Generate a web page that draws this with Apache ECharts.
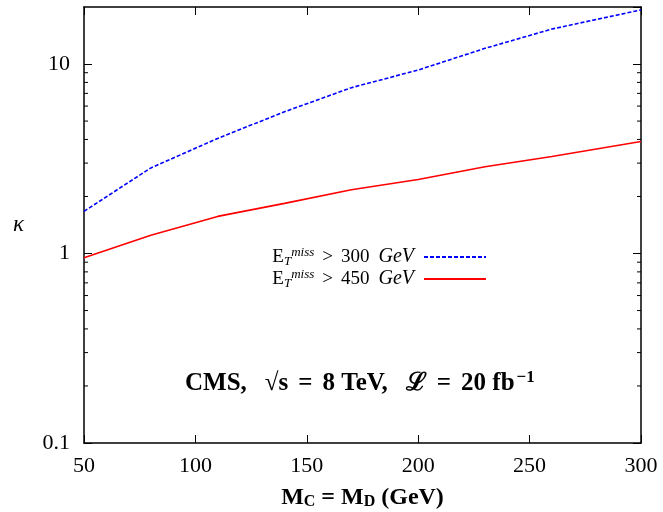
<!DOCTYPE html>
<html>
<head>
<meta charset="utf-8" />
<script src="https://cdn.jsdelivr.net/npm/echarts@6/dist/echarts.min.js"></script>
<style>
  html, body { margin: 0; padding: 0; background: #fff; }
  #view { width: 663px; height: 512px; }
</style>
</head>
<body>
<div id="view"></div>
<script>
    // masses M_C = M_D (GeV)
    var masses = [50, 80, 110, 140, 170, 200, 230, 260, 300];
    // kappa for the two missing-ET cuts
    var kappa300 = [1.67, 2.83, 4.05, 5.6, 7.5, 9.3, 12.1, 15.3, 19.3];
    var kappa450 = [0.95, 1.25, 1.57, 1.84, 2.17, 2.46, 2.87, 3.25, 3.9];
    // log axis minor ticks (2..9 per decade)
    var minorTicks = [0.2, 0.3, 0.4, 0.5, 0.6, 0.7, 0.8, 0.9,
        2, 3, 4, 5, 6, 7, 8, 9];
    var seriesNames = ["300", "450"];

    var FONT = "Liberation Serif";

    function pairs(xs, ys){
        return xs.map(function(x, i){ return [x, ys[i]]; });
    }

    var chart = echarts.init(document.getElementById("view"));

    var axisLine = {show: true, onZero: false, lineStyle: {color: "#000", width: 1.5}};
    var tick = {inside: true, length: 8, lineStyle: {color: "#000", width: 1}};

    var option = {
        backgroundColor: "#fff",
        animation: false,
        grid: {left: 84, right: 22, top: 7, bottom: 69, outerBoundsMode: "none"},
        legend: {
            orient: "vertical",
            align: "right",
            right: 171,
            top: 241,
            itemWidth: 62,
            itemHeight: 10,
            itemGap: 0,
            data: seriesNames,
            itemStyle: {color: "transparent", borderColor: "transparent", borderWidth: 0},
            formatter: function(n){
                return "{e|E}{sub|T}{sup|miss}{gt|>}{e|" + n + "}{it|GeV}";
            },
            textStyle: {
                fontFamily: FONT, fontSize: 19, color: "#000",
                rich: {
                    e: {fontFamily: FONT, fontSize: 19},
                    gt: {fontFamily: FONT, fontSize: 19, padding: [0, 8, 0, 8]},
                    sub: {fontFamily: FONT, fontSize: 13, fontStyle: "italic", padding: [9, 0, 0, 0]},
                    sup: {fontFamily: FONT, fontSize: 13, fontStyle: "italic", padding: [0, 0, 9, 0]},
                    it: {fontFamily: FONT, fontSize: 20, fontStyle: "italic", padding: [0, 5, 0, 9]}
                }
            }
        },
        xAxis: [{
            type: "value", min: 50, max: 300, interval: 50,
            axisLine: axisLine,
            axisTick: tick,
            axisLabel: {fontFamily: FONT, fontSize: 22, color: "#000", margin: 12},
            splitLine: {show: false},
            name: "{b|M}{s|C}{b| = M}{s|D}{b| (GeV)}",
            nameLocation: "middle",
            nameGap: 42,
            nameTextStyle: {
                rich: {
                    b: {fontFamily: FONT, fontSize: 24, fontWeight: "bold", color: "#000"},
                    s: {fontFamily: FONT, fontSize: 16, fontWeight: "bold", color: "#000", padding: [9, 0, 0, 0]}
                }
            }
        }, {
            type: "value", min: 50, max: 300, interval: 50, position: "top",
            axisLine: axisLine,
            axisTick: tick,
            axisLabel: {show: false},
            splitLine: {show: false}
        }],
        yAxis: [{
            type: "log", logBase: 10, min: 0.1, max: 20,
            axisLine: axisLine,
            axisTick: tick,
            axisLabel: {fontFamily: FONT, fontSize: 22, color: "#000", margin: 14, showMaxLabel: false,
                formatter: function(v){ return [0.1, 1, 10].indexOf(+v.toPrecision(3)) >= 0 ? String(+v.toPrecision(3)) : ""; }},
            splitLine: {show: false},
            name: "κ",
            nameLocation: "middle",
            nameRotate: 0,
            nameGap: 60,
            nameTextStyle: {fontFamily: FONT, fontSize: 23, fontStyle: "italic", color: "#000", padding: [0, 0, 8, 0]}
        }, {
            type: "log", logBase: 10, min: 0.1, max: 20, position: "right",
            axisLine: axisLine,
            axisTick: tick,
            axisLabel: {show: false},
            splitLine: {show: false}
        }],
        graphic: [{
            type: "text",
            left: 185,
            top: 369,
            style: {
                text: "{b|CMS,}{sp|}{b|√s}{eq|=}{b|8 TeV,}{sp|}{b|ℒ}{eq|=}{b|20 fb}{sup|−1}",
                rich: {
                    b: {fontFamily: FONT, fontSize: 25, fontWeight: "bold", fill: "#000"},
                    sp: {fontSize: 25, width: 18},
                    eq: {fontFamily: FONT, fontSize: 25, fontWeight: "bold", fill: "#000", padding: [0, 10, 0, 10]},
                    sup: {fontFamily: FONT, fontSize: 17, fontWeight: "bold", fill: "#000", padding: [0, 0, 12, 2]}
                }
            }
        }],
        series: [{
            name: seriesNames[0],
            type: "line",
            data: pairs(masses, kappa300),
            symbol: "none",
            lineStyle: {color: "#0000ff", width: 1.6, type: [4, 2]},
            itemStyle: {color: "#0000ff"}
        }, {
            name: seriesNames[1],
            type: "line",
            data: pairs(masses, kappa450),
            symbol: "none",
            lineStyle: {color: "#ff0000", width: 1.6},
            itemStyle: {color: "#ff0000"}
        }, {
            // minor ticks of the log axis, on both sides of the frame
            type: "custom",
            silent: true,
            data: minorTicks,
            encode: {y: 0},
            renderItem: function(params, api){
                var v = api.value(0);
                var a = api.coord([50, v]), b = api.coord([300, v]);
                var st = {stroke: "#000", lineWidth: 1};
                return {type: "group", children: [
                    {type: "line", shape: {x1: a[0], y1: a[1], x2: a[0] + 4, y2: a[1]}, style: st},
                    {type: "line", shape: {x1: b[0] - 4, y1: b[1], x2: b[0], y2: b[1]}, style: st}
                ]};
            }
        }]
    };

    chart.setOption(option);
</script>
</body>
</html>
